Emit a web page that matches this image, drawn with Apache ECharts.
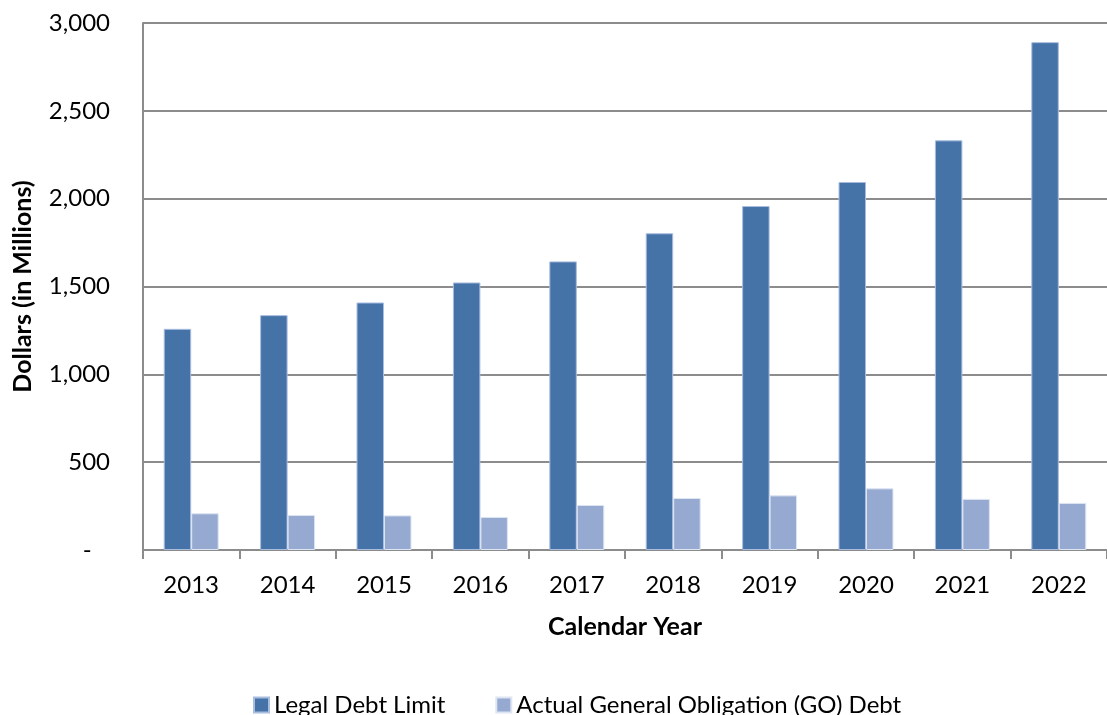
<!DOCTYPE html>
<html>
<head>
<meta charset="utf-8">
<script src="https://cdn.jsdelivr.net/npm/echarts@6/dist/echarts.min.js"></script>
<style>
  html, body { margin: 0; padding: 0; background: #ffffff; }
  #chart { width: 1107px; height: 715px; }
</style>
</head>
<body>
<div id="chart"></div>
<script>
// Calendar years on the category axis
const years = ['2013', '2014', '2015', '2016', '2017', '2018', '2019', '2020', '2021', '2022'];
// Dollars in millions
const legalDebtLimit = [1259, 1337, 1409, 1523, 1643, 1803, 1958, 2095, 2332, 2891];
const actualGODebt = [209, 199, 197, 188, 256, 296, 311, 351, 291, 268];
// Value-axis ticks
const yTicks = { min: 0, max: 3000, interval: 500 };

const FONT = 'Lato';
const chart = echarts.init(document.getElementById('chart'));

chart.setOption({
  animation: false,
  textStyle: { fontFamily: FONT, color: '#000' },
  grid: { left: 143, right: -7, top: 23, bottom: 165, containLabel: false },
  legend: {
    left: 248,
    top: 688,
    itemWidth: 15,
    itemHeight: 15,
    itemGap: 50,
    icon: 'rect',
    textStyle: { fontFamily: FONT, fontSize: 24, color: '#000' },
    data: ['Legal Debt Limit', 'Actual General Obligation (GO) Debt']
  },
  xAxis: {
    type: 'category',
    data: years,
    name: 'Calendar Year',
    nameLocation: 'middle',
    nameGap: 64,
    nameTextStyle: { fontFamily: FONT, fontSize: 25, fontWeight: 'bold', color: '#000' },
    axisLine: { lineStyle: { color: '#8c8c8c', width: 2 } },
    axisTick: { show: true, length: 9, alignWithLabel: false, lineStyle: { color: '#8c8c8c', width: 2 } },
    axisLabel: { fontSize: 24, color: '#000', margin: 23 }
  },
  yAxis: {
    type: 'value',
    min: yTicks.min,
    max: yTicks.max,
    interval: yTicks.interval,
    name: 'Dollars (in Millions)',
    nameLocation: 'middle',
    nameGap: 108,
    nameTextStyle: { fontFamily: FONT, fontSize: 25, fontWeight: 'bold', color: '#000' },
    axisLine: { show: true, lineStyle: { color: '#8c8c8c', width: 2 } },
    axisTick: { show: false },
    splitLine: { lineStyle: { color: '#8c8c8c', width: 2 } },
    axisLabel: {
      fontSize: 24,
      color: '#000',
      margin: 33,
      formatter: v => v === 0 ? '-   ' : v.toLocaleString('en-US')
    }
  },
  series: [
    {
      name: 'Legal Debt Limit',
      type: 'bar',
      data: legalDebtLimit,
      barWidth: '28.5%',
      barGap: '0%',
      itemStyle: { color: '#4573a7', borderColor: '#a9bde0', borderWidth: 1 }
    },
    {
      name: 'Actual General Obligation (GO) Debt',
      type: 'bar',
      data: actualGODebt,
      barWidth: '28.5%',
      itemStyle: { color: '#95a9d1', borderColor: '#dde5f2', borderWidth: 1 }
    }
  ]
});
</script>
</body>
</html>
